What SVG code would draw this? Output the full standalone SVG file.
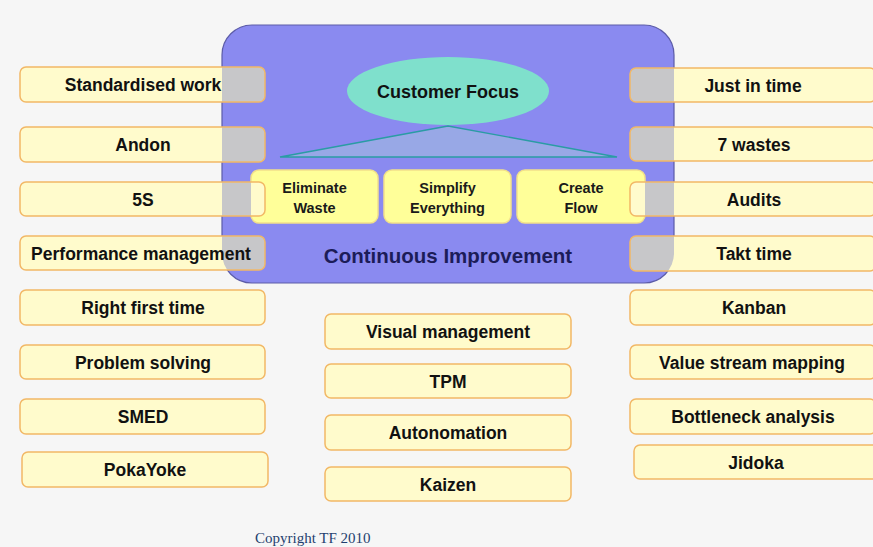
<svg xmlns="http://www.w3.org/2000/svg" width="873" height="547" viewBox="0 0 873 547">
<defs>
<clipPath id="purpleClip"><rect x="222" y="25" width="452" height="258" rx="30" ry="30"/></clipPath>
<style>
.side{fill:#FFFBCC;stroke:none}
.sideStroke{fill:none;stroke:#F2B866;stroke-width:1.5}
.gray{fill:#C7C7C9}
.lbl{font-family:"Liberation Sans",Arial,sans-serif;font-weight:bold;font-size:17.5px;fill:#111;text-anchor:middle}
.inner{fill:#FFFF99;stroke:#F2E08A;stroke-width:1.5}
.innerLbl{font-family:"Liberation Sans",Arial,sans-serif;font-weight:bold;font-size:14.5px;fill:#1a1a1a;text-anchor:middle}
</style>
</defs>
<rect x="0" y="0" width="873" height="547" fill="#F6F6F6"/>

<g id="lean-core">
<rect x="222" y="25" width="452" height="258" rx="30" ry="30" fill="#8A8AF0" stroke="#5C5CA8" stroke-width="1.2"/>
<text x="448" y="263" font-family="'Liberation Sans',Arial,sans-serif" font-weight="bold" font-size="20.5" fill="#1C1C58" text-anchor="middle">Continuous Improvement</text>
</g>
<g id="customer-focus">
<ellipse cx="448" cy="91" rx="101" ry="34" fill="#7FE0CC"/>
<text x="448" y="97.5" class="lbl" style="font-size:18px">Customer Focus</text>
</g>
<g id="triangle">
<polygon points="448,126 280,157 617,157" fill="#98A8E6" stroke="#2A9CA4" stroke-width="1.3"/>
</g>
<g id="eliminate-waste">
<rect x="251" y="170" width="127" height="53" rx="8" class="inner"/>
<text x="314.5" y="193" class="innerLbl">Eliminate</text>
<text x="314.5" y="212.5" class="innerLbl">Waste</text>
</g>
<g id="simplify-everything">
<rect x="384" y="170" width="127" height="53" rx="8" class="inner"/>
<text x="447.5" y="193" class="innerLbl">Simplify</text>
<text x="447.5" y="212.5" class="innerLbl">Everything</text>
</g>
<g id="create-flow">
<rect x="517" y="170" width="128" height="53" rx="8" class="inner"/>
<text x="581" y="193" class="innerLbl">Create</text>
<text x="581" y="212.5" class="innerLbl">Flow</text>
</g>

<g id="connectors"></g>

<!-- Left column -->
<g id="standardised-work">
<rect x="20" y="67" width="245" height="35" rx="6" class="side"/>
<rect x="20" y="67" width="245" height="35" rx="6" class="gray" clip-path="url(#purpleClip)"/>
<rect x="20" y="67" width="245" height="35" rx="6" class="sideStroke"/>
<text x="143" y="91" class="lbl">Standardised work</text>
</g>
<g id="andon">
<rect x="20" y="127" width="245" height="35" rx="6" class="side"/>
<rect x="20" y="127" width="245" height="35" rx="6" class="gray" clip-path="url(#purpleClip)"/>
<rect x="20" y="127" width="245" height="35" rx="6" class="sideStroke"/>
<text x="143" y="151" class="lbl">Andon</text>
</g>
<g id="five-s">
<rect x="20" y="182" width="245" height="34" rx="6" class="side"/>
<rect x="20" y="182" width="231" height="34" rx="0" class="gray" clip-path="url(#purpleClip)"/>
<rect x="20" y="182" width="245" height="34" rx="6" class="sideStroke"/>
<text x="143" y="205.5" class="lbl">5S</text>
</g>
<g id="performance-management">
<rect x="20" y="236" width="245" height="34" rx="6" class="side"/>
<rect x="20" y="236" width="245" height="34" rx="6" class="gray" clip-path="url(#purpleClip)"/>
<rect x="20" y="236" width="245" height="34" rx="6" class="sideStroke"/>
<text x="141" y="259.5" class="lbl">Performance management</text>
</g>
<g id="right-first-time">
<rect x="20" y="290" width="245" height="35" rx="6" class="side"/>
<rect x="20" y="290" width="245" height="35" rx="6" class="sideStroke"/>
<text x="143" y="314" class="lbl">Right first time</text>
</g>
<g id="problem-solving">
<rect x="20" y="345" width="245" height="34" rx="6" class="side"/>
<rect x="20" y="345" width="245" height="34" rx="6" class="sideStroke"/>
<text x="143" y="368.5" class="lbl">Problem solving</text>
</g>
<g id="smed">
<rect x="20" y="399" width="245" height="35" rx="6" class="side"/>
<rect x="20" y="399" width="245" height="35" rx="6" class="sideStroke"/>
<text x="143" y="423" class="lbl">SMED</text>
</g>
<g id="pokayoke">
<rect x="22" y="452" width="246" height="35" rx="6" class="side"/>
<rect x="22" y="452" width="246" height="35" rx="6" class="sideStroke"/>
<text x="145" y="476" class="lbl">PokaYoke</text>
</g>

<!-- Center column -->
<g id="visual-management">
<rect x="325" y="314" width="246" height="35" rx="6" class="side"/>
<rect x="325" y="314" width="246" height="35" rx="6" class="sideStroke"/>
<text x="448" y="338" class="lbl">Visual management</text>
</g>
<g id="tpm">
<rect x="325" y="364" width="246" height="34" rx="6" class="side"/>
<rect x="325" y="364" width="246" height="34" rx="6" class="sideStroke"/>
<text x="448" y="387.5" class="lbl">TPM</text>
</g>
<g id="autonomation">
<rect x="325" y="415" width="246" height="35" rx="6" class="side"/>
<rect x="325" y="415" width="246" height="35" rx="6" class="sideStroke"/>
<text x="448" y="439" class="lbl">Autonomation</text>
</g>
<g id="kaizen">
<rect x="325" y="467" width="246" height="34" rx="6" class="side"/>
<rect x="325" y="467" width="246" height="34" rx="6" class="sideStroke"/>
<text x="448" y="490.5" class="lbl">Kaizen</text>
</g>

<!-- Right column -->
<g id="just-in-time">
<rect x="630" y="68" width="246" height="34" rx="6" class="side"/>
<rect x="630" y="68" width="246" height="34" rx="6" class="gray" clip-path="url(#purpleClip)"/>
<rect x="630" y="68" width="246" height="34" rx="6" class="sideStroke"/>
<text x="753" y="91.5" class="lbl">Just in time</text>
</g>
<g id="seven-wastes">
<rect x="630" y="127" width="246" height="34" rx="6" class="side"/>
<rect x="630" y="127" width="246" height="34" rx="6" class="gray" clip-path="url(#purpleClip)"/>
<rect x="630" y="127" width="246" height="34" rx="6" class="sideStroke"/>
<text x="754" y="150.5" class="lbl">7 wastes</text>
</g>
<g id="audits">
<rect x="630" y="182" width="246" height="34" rx="6" class="side"/>
<rect x="645" y="182" width="231" height="34" class="gray" clip-path="url(#purpleClip)"/>
<rect x="630" y="182" width="246" height="34" rx="6" class="sideStroke"/>
<text x="754" y="205.5" class="lbl">Audits</text>
</g>
<g id="takt-time">
<rect x="630" y="236" width="246" height="35" rx="6" class="side"/>
<rect x="630" y="236" width="246" height="35" rx="6" class="gray" clip-path="url(#purpleClip)"/>
<rect x="630" y="236" width="246" height="35" rx="6" class="sideStroke"/>
<text x="754" y="260" class="lbl">Takt time</text>
</g>
<g id="kanban">
<rect x="630" y="290" width="246" height="35" rx="6" class="side"/>
<rect x="630" y="290" width="246" height="35" rx="6" class="sideStroke"/>
<text x="754" y="314" class="lbl">Kanban</text>
</g>
<g id="value-stream-mapping">
<rect x="630" y="345" width="246" height="34" rx="6" class="side"/>
<rect x="630" y="345" width="246" height="34" rx="6" class="sideStroke"/>
<text x="752" y="368.5" class="lbl">Value stream mapping</text>
</g>
<g id="bottleneck-analysis">
<rect x="630" y="399" width="246" height="35" rx="6" class="side"/>
<rect x="630" y="399" width="246" height="35" rx="6" class="sideStroke"/>
<text x="753" y="423" class="lbl">Bottleneck analysis</text>
</g>
<g id="jidoka">
<rect x="634" y="445" width="246" height="34" rx="6" class="side"/>
<rect x="634" y="445" width="246" height="34" rx="6" class="sideStroke"/>
<text x="756" y="468.5" class="lbl">Jidoka</text>
</g>

<text x="255" y="543" font-family="'Liberation Serif','Times New Roman',serif" font-size="15" fill="#1F3F6F">Copyright TF 2010</text>
</svg>
